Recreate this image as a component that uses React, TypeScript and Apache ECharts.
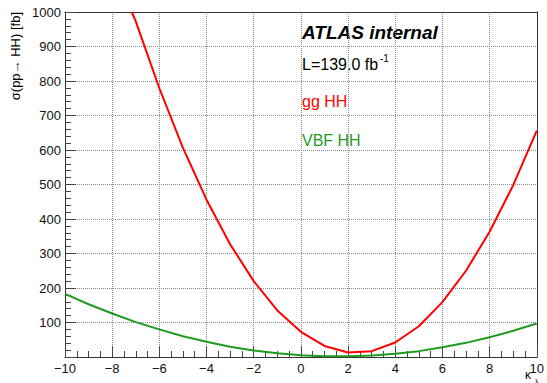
import React, { useEffect, useRef } from "react";
import * as echarts from "echarts";

// kappa_lambda values (x) and cross sections in fb (y)
const ggKappa = [-7.17, -7, -6, -5, -4, -3, -2, -1, 0, 1, 2, 3, 4, 5, 6, 7, 8, 9, 10];
const ggXsec = [1000, 973, 779, 606, 456, 327, 220, 135, 73, 32, 13, 17, 42, 89, 159, 250, 363, 498, 656];

const vbfKappa = [-10, -9, -8, -7, -6, -5, -4, -3, -2, -1, 0, 1, 2, 3, 4, 5, 6, 7, 8, 9, 10];
const vbfXsec = [183, 153, 126, 101, 80, 60, 44, 30, 19, 11, 5, 2.3, 2, 4.4, 9.6, 17, 28, 41, 57, 76, 97];

const labelTitle = "ATLAS internal";
const labelLumi = "L=139.0 fb";
const labelLumiSup = "-1";
const labelGG = "gg HH";
const labelVBF = "VBF HH";
const yTitle = "σ(pp→ HH) [fb]";

const FONT = "'Liberation Sans', Arial, Helvetica, sans-serif";
const RED = "#ff0000";
const GREEN = "#1f9c1f";
const AXIS = "#333333";
const TICK = "#444444";

const W = 547;
const H = 383;
const G = { left: 65, right: 9, top: 12, bottom: 26 };

export default function App() {
  const ref = useRef<HTMLDivElement>(null);
  useEffect(() => {
    if (!ref.current) return;
    const chart = echarts.init(ref.current, undefined, { renderer: "svg" });
    const fmtMinus = (v: number) => (v < 0 ? "\u2212" + Math.abs(v) : String(v));
    const xBase = { type: "value", min: -10, max: 10, interval: 2 };
    const yBase = { type: "value", min: 0, max: 1000, interval: 100 };
    const off = { show: false };
    const grid = { type: "dotted", color: "#8a8a8a", width: 1 };
    chart.setOption({
      animation: false,
      backgroundColor: "#ffffff",
      grid: { ...G, show: false },
      xAxis: [
        {
          ...xBase,
          position: "bottom",
          axisLine: { show: true, onZero: false, lineStyle: { color: AXIS, width: 1 } },
          axisTick: { show: true, inside: true, length: 11, lineStyle: { color: TICK, width: 1 } },
          minorTick: { show: true, splitNumber: 4, length: 6, lineStyle: { color: TICK, width: 1 } },
          axisLabel: { fontFamily: FONT, fontSize: 13, color: "#111", margin: 5, formatter: fmtMinus },
          splitLine: { show: true, lineStyle: grid },
        },
        {
          ...xBase,
          position: "top",
          axisLine: { show: true, onZero: false, lineStyle: { color: AXIS, width: 1 } },
          axisTick: off,
          axisLabel: off,
          splitLine: off,
        },
      ],
      yAxis: [
        {
          ...yBase,
          position: "left",
          axisLine: { show: true, onZero: false, lineStyle: { color: AXIS, width: 1 } },
          axisTick: { show: true, inside: true, length: 11, lineStyle: { color: TICK, width: 1 } },
          minorTick: { show: true, splitNumber: 5, length: 6, lineStyle: { color: TICK, width: 1 } },
          axisLabel: {
            fontFamily: FONT,
            fontSize: 13,
            color: "#111",
            margin: 4,
            formatter: (v: number) => (v === 0 ? "" : String(v)),
          },
          splitLine: { show: true, lineStyle: grid },
        },
        {
          ...yBase,
          position: "right",
          axisLine: { show: true, onZero: false, lineStyle: { color: AXIS, width: 1 } },
          axisTick: off,
          axisLabel: off,
          splitLine: off,
        },
      ],
      series: [
        {
          name: labelGG,
          type: "line",
          data: ggKappa.map((k, i) => [k, ggXsec[i]]),
          showSymbol: false,
          symbol: "none",
          clip: true,
          lineStyle: { color: RED, width: 2 },
        },
        {
          name: labelVBF,
          type: "line",
          data: vbfKappa.map((k, i) => [k, vbfXsec[i]]),
          showSymbol: false,
          symbol: "none",
          clip: true,
          lineStyle: { color: GREEN, width: 2 },
        },
      ],
      graphic: [
        {
          type: "text",
          x: 302,
          y: 32,
          style: {
            text: labelTitle,
            fill: "#000",
            fontFamily: FONT,
            fontSize: 19,
            fontWeight: "bold",
            fontStyle: "italic",
            align: "left",
            verticalAlign: "middle",
          },
        },
        {
          type: "text",
          x: 302,
          y: 64,
          style: { text: labelLumi, fill: "#000", fontFamily: FONT, fontSize: 16, align: "left", verticalAlign: "middle" },
        },
        {
          type: "text",
          x: 380,
          y: 58,
          style: { text: labelLumiSup, fill: "#000", fontFamily: FONT, fontSize: 10, align: "left", verticalAlign: "middle" },
        },
        {
          type: "text",
          x: 302,
          y: 101,
          style: { text: labelGG, fill: RED, fontFamily: FONT, fontSize: 16, align: "left", verticalAlign: "middle" },
        },
        {
          type: "text",
          x: 302,
          y: 140,
          style: { text: labelVBF, fill: GREEN, fontFamily: FONT, fontSize: 16, align: "left", verticalAlign: "middle" },
        },
        {
          type: "text",
          x: 15,
          y: 12,
          rotation: Math.PI / 2,
          style: { text: yTitle, fill: "#000", fontFamily: FONT, fontSize: 13, align: "right", verticalAlign: "middle" },
        },
        {
          type: "text",
          x: 525,
          y: 375,
          style: { text: "κ", fill: "#000", fontFamily: FONT, fontSize: 12, align: "left", verticalAlign: "middle" },
        },
        {
          type: "text",
          x: 535,
          y: 381,
          style: { text: "λ", fill: "#000", fontFamily: FONT, fontSize: 7, align: "left", verticalAlign: "middle" },
        },
      ],
    });
    return () => chart.dispose();
  }, []);
  return <div ref={ref} style={{ position: "fixed", left: 0, top: 0, width: W, height: H }} />;
}
